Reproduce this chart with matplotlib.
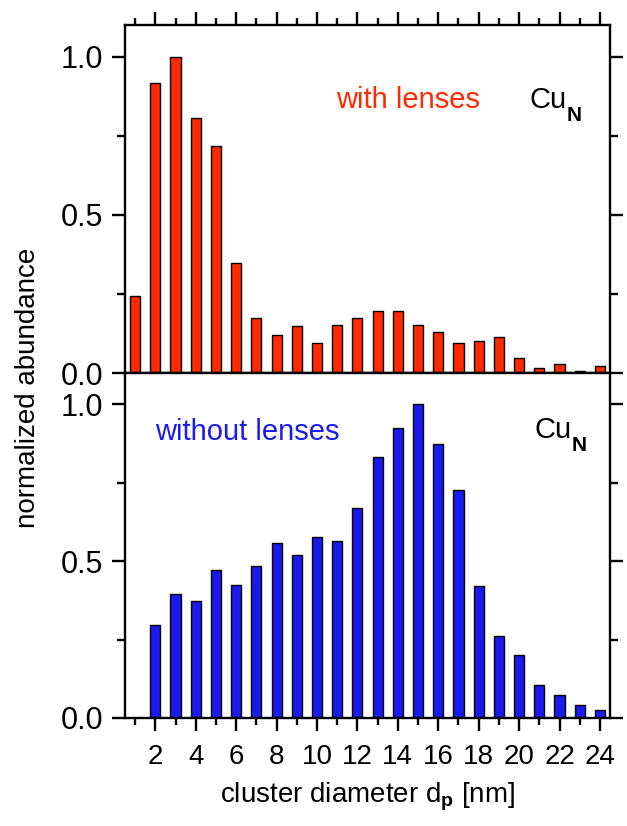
import matplotlib
matplotlib.use('Agg')
import matplotlib.pyplot as plt
from matplotlib.ticker import MultipleLocator

plt.rcParams['font.family'] = ['Liberation Sans', 'DejaVu Sans']
plt.rcParams['mathtext.fontset'] = 'custom'
plt.rcParams['mathtext.rm'] = 'Liberation Sans'
plt.rcParams['mathtext.bf'] = 'Liberation Sans:bold'

# data
d_with = list(range(1, 25))
abund_with = [0.245, 0.916, 1.0, 0.807, 0.717, 0.348, 0.174, 0.119, 0.148, 0.094,
              0.151, 0.175, 0.195, 0.195, 0.151, 0.129, 0.096, 0.100, 0.113, 0.049,
              0.015, 0.027, 0.007, 0.021]
d_without = list(range(2, 25))
abund_without = [0.297, 0.394, 0.374, 0.473, 0.423, 0.485, 0.559, 0.521, 0.577, 0.565,
                 0.668, 0.832, 0.924, 1.0, 0.873, 0.726, 0.420, 0.261, 0.200, 0.105,
                 0.072, 0.042, 0.024]
xticks = list(range(2, 25, 2))

red = '#FF2A00'
blue = '#1A1AEE'

fig = plt.figure(figsize=(6.27, 8.26), dpi=100)
ax1 = fig.add_axes([0.1994, 0.5484, 0.7736, 0.4213])
ax2 = fig.add_axes([0.1994, 0.1308, 0.7736, 0.4176])

ax1.bar(d_with, abund_with, width=0.5, color=red, edgecolor='black', linewidth=1.0)
ax2.bar(d_without, abund_without, width=0.5, color=blue, edgecolor='black', linewidth=1.0)

for ax in (ax1, ax2):
    ax.set_xlim(0.5, 24.5)
    ax.set_ylim(0, 1.1)
    ax.set_xticks(xticks)
    ax.xaxis.set_minor_locator(MultipleLocator(1))
    ax.set_yticks([0.0, 0.5, 1.0])
    ax.yaxis.set_minor_locator(MultipleLocator(0.25))
    ax.set_yticklabels(['0.0', '0.5', '1.0'])
    for s in ax.spines.values():
        s.set_linewidth(1.7)
    ax.tick_params(axis='both', which='both', direction='out', width=1.7)
    ax.tick_params(axis='both', which='major', length=9.5)
    ax.tick_params(axis='both', which='minor', length=5)
    ax.tick_params(axis='y', which='both', right=True, labelright=False,
                   labelsize=22, pad=6)
    ax.tick_params(axis='y', which='minor', length=6)

ax1.tick_params(axis='x', which='both', top=True, bottom=True,
                labelbottom=False, labeltop=False)
ax2.tick_params(axis='x', which='both', top=False, bottom=True,
                labelsize=20, pad=9)

ax1.text(14.5, 0.839, 'with lenses', color=red, fontsize=21, ha='center', va='baseline')
ax2.text(1.99, 0.886, 'without lenses', color=blue, fontsize=21, ha='left', va='baseline')

# Cu with a lowered bold N subscript
for ax, x, y in ((ax1, 20.5, 0.839), (ax2, 20.75, 0.893)):
    cu = ax.text(x, y, 'Cu', color='black', fontsize=21, ha='left', va='baseline')
    ax.annotate('N', xy=(1, 0), xycoords=cu, xytext=(0.5, -5),
                textcoords='offset points', fontsize=15, fontweight='bold',
                ha='left', va='baseline')

ax2.set_xlabel(r'cluster diameter d$_\mathbf{p}$ [nm]', fontsize=20, labelpad=8)
fig.text(0.045, 0.53, 'normalized abundance', rotation=90, fontsize=20,
         ha='center', va='center')

fig.savefig('out.png', dpi=100)
